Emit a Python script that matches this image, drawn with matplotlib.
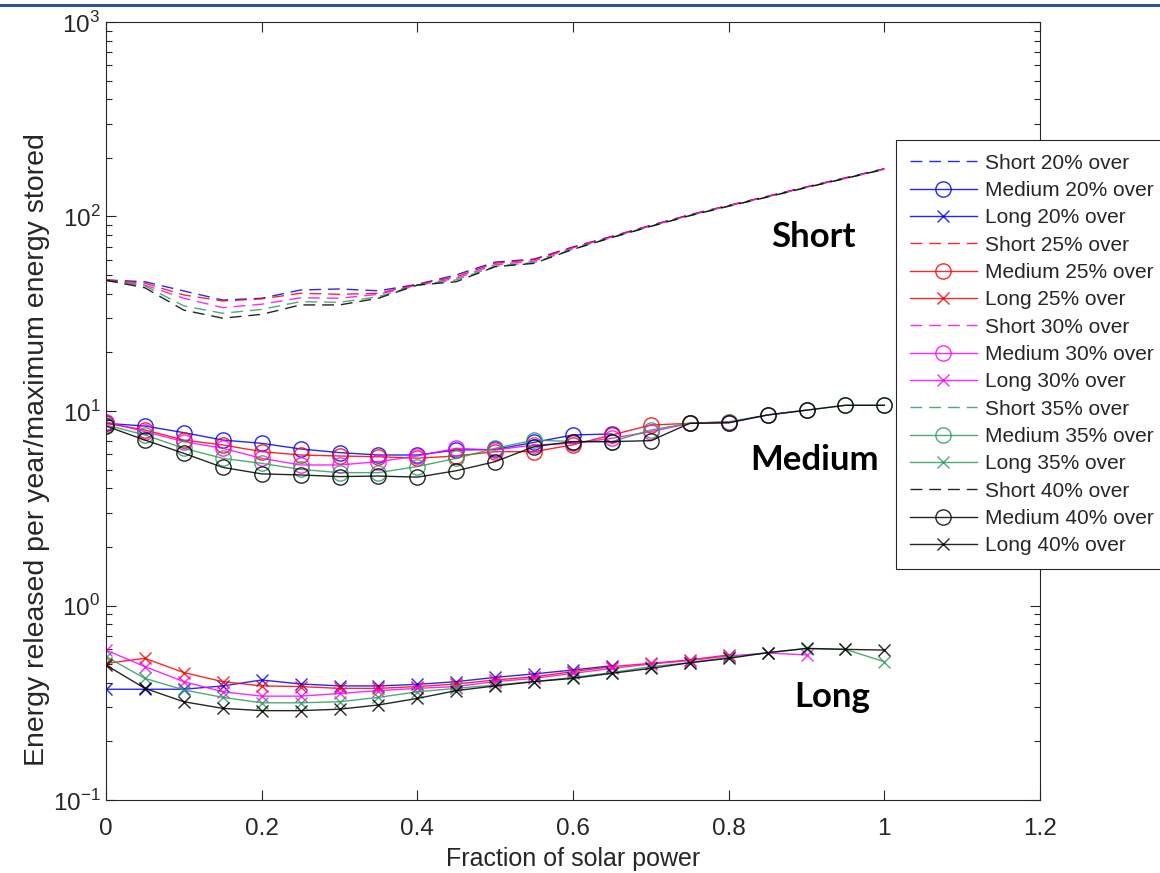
import matplotlib
matplotlib.use("Agg")
import matplotlib.pyplot as plt
from matplotlib.lines import Line2D
from matplotlib.ticker import LogLocator, FixedLocator, FixedFormatter, NullFormatter

plt.rcParams['font.family'] = ['Liberation Sans', 'DejaVu Sans']
plt.rcParams['mathtext.fontset'] = 'custom'
plt.rcParams['mathtext.rm'] = 'Liberation Sans'

# ---------------- data ----------------
solar_fraction = [0.0, 0.05, 0.10, 0.15, 0.20, 0.25, 0.30, 0.35, 0.40, 0.45, 0.50,
                  0.55, 0.60, 0.65, 0.70, 0.75, 0.80, 0.85, 0.90, 0.95, 1.0]

short_20 = [47.2, 46.2, 41.4, 37.2, 38.0, 41.9, 42.4, 41.5, 44.8, 50.1, 58.3,
            60.4, 69.7, 79, 90, 102, 114, 127, 142, 158, 176]
short_25 = [47.2, 45.4, 39.5, 36.8, 37.7, 40.3, 39.8, 40.3, 44.8, 49.0, 57.5,
            60.0, 69.5, 79, 90, 102, 114, 127, 142, 158, 176]
short_30 = [47.0, 44.4, 38.0, 34.0, 35.4, 38.2, 38.0, 39.8, 44.4, 48.1, 56.5,
            59.0, 69.0, 78.5, 89.5, 101.5, 113.5, 126.5, 141.5, 157, 175]
short_35 = [47.0, 44.0, 34.7, 31.8, 33.3, 36.5, 36.2, 38.7, 44.4, 47.2, 55.5,
            58.0, 68.0, 78, 89, 101, 113, 126, 141, 157, 175]
short_40 = [47.0, 43.0, 33.0, 30.0, 31.4, 35.1, 35.1, 38.0, 44.4, 46.2, 55.2,
            57.4, 67.8, 78, 89, 101, 113, 126, 141, 157, 175]

medium_20 = [8.64, 8.37, 7.74, 7.09, 6.82, 6.38, 6.11, 5.94, 5.94, 6.30, 6.34,
             6.90, 7.53, 7.62]
medium_25 = [8.64, 7.99, 7.09, 6.69, 6.18, 5.94, 5.87, 5.82, 5.72, 5.87, 6.18,
             6.18, 6.70, 7.53, 8.47, 8.64, 8.81]
medium_30 = [8.81, 7.83, 6.96, 6.43, 5.71, 5.28, 5.28, 5.49, 5.87, 6.43, 6.30,
             6.69, 6.82, 7.24, 7.83, 8.64, 8.70, 9.54, 10.1]
medium_35 = [8.47, 7.53, 6.43, 5.71, 5.38, 5.01, 4.82, 4.82, 5.18, 5.71, 6.43,
             7.09, 6.96, 6.96, 7.99, 8.64, 8.81, 9.54, 10.1, 10.7, 10.7]
medium_40 = [8.37, 7.09, 6.06, 5.13, 4.75, 4.69, 4.60, 4.63, 4.57, 4.93, 5.49,
             6.56, 6.96, 6.96, 7.04, 8.64, 8.70, 9.54, 10.1, 10.7, 10.7]

long_20 = [0.371, 0.371, 0.371, 0.386, 0.414, 0.395, 0.386, 0.386, 0.393, 0.406,
           0.427, 0.445, 0.466, 0.490]
long_25 = [0.504, 0.535, 0.452, 0.406, 0.386, 0.383, 0.375, 0.375, 0.383, 0.395,
           0.414, 0.430, 0.457, 0.485, 0.504, 0.525, 0.557]
long_30 = [0.590, 0.485, 0.406, 0.360, 0.342, 0.342, 0.353, 0.365, 0.375, 0.383,
           0.406, 0.422, 0.448, 0.475, 0.500, 0.521, 0.550, 0.570, 0.557]
long_35 = [0.546, 0.422, 0.368, 0.337, 0.316, 0.316, 0.320, 0.337, 0.360, 0.375,
           0.390, 0.406, 0.427, 0.452, 0.485, 0.508, 0.541, 0.572, 0.600, 0.595, 0.514]
long_40 = [0.494, 0.375, 0.320, 0.296, 0.288, 0.288, 0.293, 0.308, 0.333, 0.365,
           0.386, 0.406, 0.422, 0.448, 0.475, 0.508, 0.535, 0.572, 0.602, 0.595, 0.590]

over_pct = ['20%', '25%', '30%', '35%', '40%']
series_colors = ['#0000ff', '#ff0000', '#ff00ff', '#2e9e5b', '#000000']

x_ticks = [0, 0.2, 0.4, 0.6, 0.8, 1.0, 1.2]
x_tick_labels = ['0', '0.2', '0.4', '0.6', '0.8', '1', '1.2']
y_ticks = [0.1, 1, 10, 100, 1000]
y_tick_labels = [r'$10^{-1}$', r'$10^{0}$', r'$10^{1}$', r'$10^{2}$', r'$10^{3}$']

region_labels = ['Short', 'Medium', 'Long']
region_label_pos = [(0.909, 78.0), (0.911, 5.6), (0.933, 0.34)]

# ---------------- figure ----------------
W, H = 1160, 873
fig = plt.figure(figsize=(W / 100, H / 100), dpi=100)
ax = fig.add_axes([106 / W, 1 - 800 / H, 934 / W, 778 / H])

shorts = [short_20, short_25, short_30, short_35, short_40]
mediums = [medium_20, medium_25, medium_30, medium_35, medium_40]
longs = [long_20, long_25, long_30, long_35, long_40]

handles = []
for pct, col, s, m, l in zip(over_pct, series_colors, shorts, mediums, longs):
    h1, = ax.plot(solar_fraction[:len(s)], s, color=col, lw=1.0, ls=(0, (8.5, 5)),
                  alpha=0.85, label=f'Short {pct} over')
    h2, = ax.plot(solar_fraction[:len(m)], m, color=col, lw=1.0, marker='o', ms=11,
                  mfc='none', mew=1.0, alpha=0.85, label=f'Medium {pct} over')
    h3, = ax.plot(solar_fraction[:len(l)], l, color=col, lw=1.0, marker='x', ms=9,
                  mew=1.0, alpha=0.85, label=f'Long {pct} over')
    handles += [h1, h2, h3]

ax.set_yscale('log')
ax.set_xlim(0, 1.2)
ax.set_ylim(0.1, 1000)

ax.xaxis.set_major_locator(FixedLocator(x_ticks))
ax.xaxis.set_major_formatter(FixedFormatter(x_tick_labels))
ax.yaxis.set_major_locator(FixedLocator(y_ticks))
ax.yaxis.set_major_formatter(FixedFormatter(y_tick_labels))
ax.yaxis.set_minor_locator(LogLocator(base=10, subs=range(2, 10)))
ax.yaxis.set_minor_formatter(NullFormatter())

edge = '#262626'
for sp in ax.spines.values():
    sp.set_color(edge)
    sp.set_linewidth(0.8)
ax.tick_params(which='both', direction='in', top=True, right=True, colors=edge,
               labelcolor='#262626', labelsize=17.5)
ax.tick_params(which='major', length=7, width=0.8)
ax.tick_params(which='minor', length=4, width=0.8)
ax.tick_params(axis='x', pad=13)
ax.tick_params(axis='y', pad=4)

ax.set_xlabel('Fraction of solar power', fontsize=18, color='#262626', labelpad=5)
ax.set_ylabel('Energy released per year/maximum energy stored', fontsize=20.5,
              color='#262626', labelpad=2)
ax.yaxis.set_label_coords(-0.060, 0.45)

for txt, (tx, ty) in zip(region_labels, region_label_pos):
    ax.text(tx, ty, txt, ha='center', va='center', fontsize=25, fontweight='bold',
            family=['Lato', 'DejaVu Sans'], color='black')

leg = fig.legend(handles=handles, loc='upper left',
                 bbox_to_anchor=(896 / W, 1 - 140 / H), bbox_transform=fig.transFigure,
                 fontsize=15, frameon=True, fancybox=False, framealpha=1,
                 edgecolor=edge, handlelength=3.25, handletextpad=0.35,
                 labelspacing=0.40, borderpad=0.65, borderaxespad=0)
leg.get_frame().set_linewidth(0.8)
for t in leg.get_texts():
    t.set_color('#262626')

# blue border line along the top of the screenshot
fig.add_artist(Line2D([0, 1], [1 - 5 / H, 1 - 5 / H], transform=fig.transFigure,
                      color='#2f5597', lw=2.2))

fig.savefig('out.png', dpi=100)
